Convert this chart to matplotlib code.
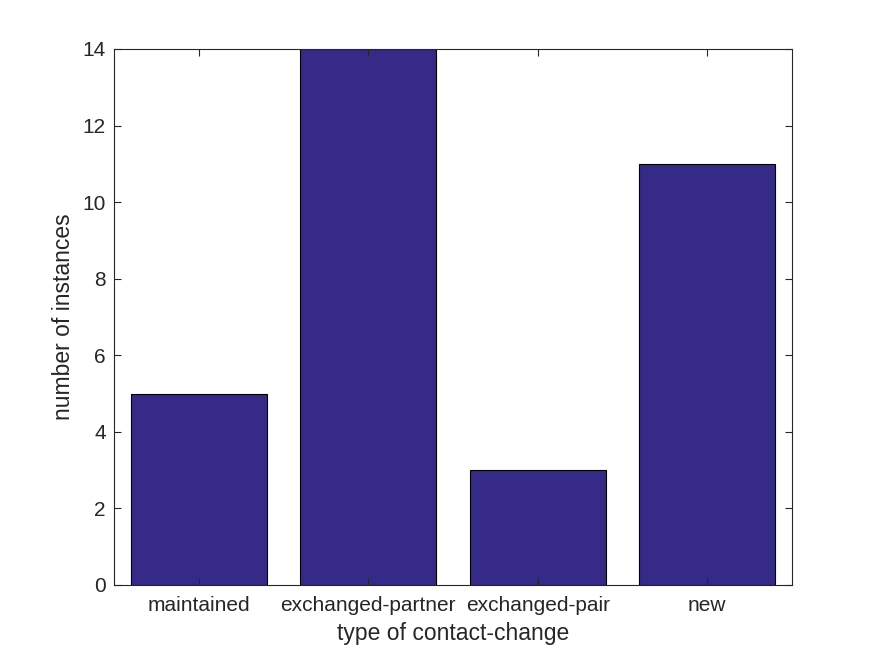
import matplotlib
matplotlib.use("Agg")
import matplotlib.pyplot as plt

categories = ["maintained", "exchanged-partner", "exchanged-pair", "new"]
values = [5, 14, 3, 11]
yticks = [0, 2, 4, 6, 8, 10, 12, 14]

plt.rcParams['font.family'] = ['Liberation Sans', 'DejaVu Sans']
fig = plt.figure(figsize=(8.75, 6.56), dpi=100)
ax = fig.add_axes([114/875, 1-585/656, (792-114)/875, (585-49)/656])
x = list(range(1, len(categories)+1))
ax.bar(x, values, width=0.8, color='#352A87', edgecolor='black', linewidth=0.8, zorder=1)
ax.set_xlim(0.5, 4.5)
ax.set_ylim(0, 14)
ax.set_xticks(x)
ax.set_xticklabels(categories)
ax.set_yticks(yticks)
ax.tick_params(direction='in', length=5, width=0.8, colors='#262626', labelsize=15, pad=6, top=True, right=True)
ax.tick_params(axis='x', pad=8)
for s in ax.spines.values():
    s.set_color('#262626')
    s.set_linewidth(0.8)
    s.set_zorder(3)
ax.set_axisbelow(False)
ax.set_xlabel("type of contact-change", fontsize=16.5, color='#262626', labelpad=5)
ax.set_ylabel("number of instances", fontsize=16.5, color='#262626', labelpad=5)
fig.savefig("out.png", dpi=100)
